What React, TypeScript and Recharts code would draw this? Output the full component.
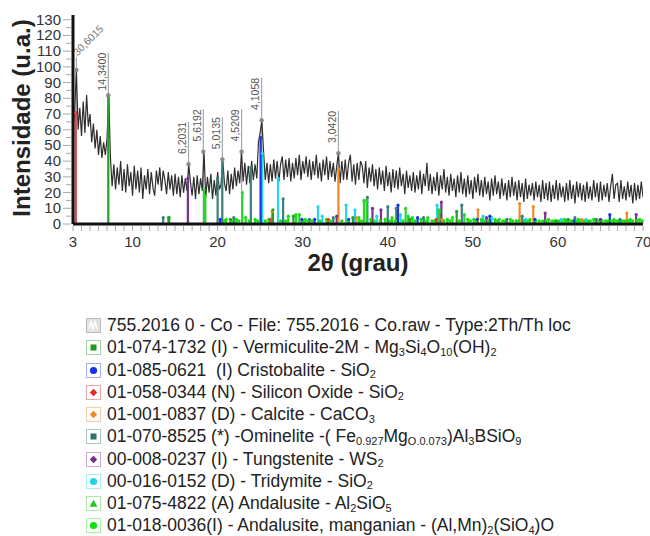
import React from 'react';
import {
  ComposedChart,
  Line,
  XAxis,
  YAxis,
  ReferenceLine,
  ReferenceDot,
  Label,
} from 'recharts';

const FONT = '"Liberation Sans", Arial, Helvetica, sans-serif';

// scan: 2θ from 3° to 70° in 0.2° steps
const scanStart = 3;
const scanStep = 0.2;
const counts = [
  62, 72, 98, 60, 74, 56, 78, 58, 82, 62,
  70, 52, 64, 48, 60, 44, 56, 42, 52, 44,
  54, 82, 42, 24, 38, 22, 36, 25, 40, 21,
  35, 20, 38, 24, 33, 18, 37, 22, 34, 20,
  36, 16, 31, 22, 35, 19, 33, 23, 18, 34,
  25, 36, 21, 34, 28, 19, 33, 22, 31, 18,
  32, 19, 30, 17, 31, 20, 29, 21, 38, 27,
  18, 30, 16, 31, 19, 29, 21, 46, 17, 30,
  20, 32, 16, 28, 18, 33, 22, 25, 41, 26,
  21, 34, 19, 32, 22, 36, 24, 34, 26, 46,
  27, 39, 25, 37, 26, 40, 28, 38, 29, 52,
  58, 66, 46, 28, 39, 26, 38, 27, 41, 29,
  40, 27, 38, 43, 28, 41, 30, 42, 27, 39,
  29, 42, 31, 44, 28, 40, 32, 43, 30, 41,
  28, 40, 31, 44, 29, 39, 27, 41, 31, 43,
  28, 40, 30, 39, 27, 37, 45, 26, 40, 28,
  41, 28, 39, 44, 27, 38, 25, 39, 28, 40,
  37, 26, 40, 23, 36, 27, 38, 24, 35, 22,
  36, 25, 34, 21, 37, 24, 33, 20, 35, 23,
  34, 22, 36, 24, 32, 19, 34, 23, 31, 21,
  33, 20, 31, 22, 34, 19, 32, 24, 39, 21,
  32, 19, 30, 21, 33, 18, 31, 22, 35, 20,
  30, 18, 32, 21, 29, 17, 31, 20, 33, 19,
  29, 17, 31, 19, 28, 16, 30, 20, 32, 18,
  28, 17, 30, 19, 27, 15, 29, 18, 31, 19,
  27, 16, 29, 18, 26, 15, 28, 17, 30, 18,
  27, 15, 28, 17, 26, 14, 29, 16, 25, 18,
  26, 15, 27, 17, 25, 14, 28, 16, 26, 15,
  27, 14, 25, 16, 28, 15, 26, 17, 24, 14,
  26, 15, 28, 16, 25, 13, 27, 17, 26, 15,
  25, 14, 27, 16, 24, 15, 28, 17, 26, 14,
  27, 15, 25, 17, 26, 14, 24, 32, 16, 25,
  26, 14, 28, 16, 24, 15, 27, 17, 25, 13,
  26, 15, 25, 16, 27, 17,
];

const xLabelTicks = [3, 10, 20, 30, 40, 50, 60, 70];
const yLabelTicks = [0, 10, 20, 30, 40, 50, 60, 70, 80, 90, 100, 110, 120, 130];

// d-spacing peak markers
const dLabels = ['30,6015', '14,3400', '6,2031', '5,6192', '5,0135', '4,5209', '4,1058', '3,0420'];
const dTheta = [3.4, 7.15, 16.58, 18.32, 20.56, 22.82, 25.17, 34.2];
const dPeak = [98, 82, 38, 46, 41, 46, 66, 45];

// reference patterns (position, relative intensity)
const vermTheta = [7.15, 14.3, 21.5, 26.5, 28.9, 35.9, 42.6, 48.1, 59.8, 61.2];
const vermInt = [81, 4, 3, 9, 5, 4, 3, 8, 2, 3];
const cristTheta = [20.3, 25.05, 29.9, 31.4, 35.4, 41.2, 43.5, 50.5, 52.0, 57.3, 61.9, 66.1];
const cristInt = [3, 55, 3, 3, 3, 12, 4, 3, 5, 3, 2, 6];
const siliconTheta = [3.3, 26.2, 33.0, 45.7];
const siliconInt = [71, 3, 3, 3];
const calciteTheta = [26.4, 34.2, 36.3, 46.4, 50.6, 55.5, 57.1, 62.8, 68.1];
const calciteInt = [8, 35, 4, 3, 9, 13, 11, 3, 7];
const omineliteTheta = [13.6, 20.0, 20.55, 21.9, 23.9, 27.7, 30.8, 33.6, 37.6, 40.0, 41.0, 44.2, 48.7, 54.0, 55.8, 62.0, 64.5, 67.3];
const omineliteInt = [4, 29, 41, 4, 36, 16, 3, 4, 17, 11, 10, 4, 12, 3, 5, 4, 3, 3];
const tungTheta = [16.5, 34.0, 38.2, 39.2, 46.3, 51.6, 58.5, 65.0, 69.2];
const tungInt = [29, 5, 10, 9, 14, 4, 7, 3, 6];
const tridTheta = [25.25, 27.1, 31.8, 32.3, 35.1, 36.15, 38.7, 41.5, 45.8, 51.2, 52.2, 56.2, 60.4, 63.3];
const tridInt = [45, 29, 11, 5, 12, 9, 5, 6, 12, 5, 4, 3, 3, 3];
const andTheta = [18.4, 22.9, 37.2, 37.5, 42.1, 46.0, 49.0, 53.1];
const andInt = [22, 20, 15, 15, 10, 9, 6, 3];
const mangTheta = [
  14.2, 18.55, 20.8, 21.0, 21.7, 22.2, 22.5, 23.3, 23.7, 24.4, 24.7, 25.6, 26.0, 27.4, 28.0, 28.3,
  29.2, 29.6, 30.0, 30.3, 30.6, 31.1, 32.0, 32.8, 33.3, 34.6, 35.3, 36.6, 36.9, 38.0, 38.4, 39.1,
  39.7, 40.2, 40.5, 40.9, 41.8, 42.4, 42.9, 43.2, 43.9, 44.4, 44.7, 45.2, 45.5, 46.1, 46.6, 47.0,
  47.3, 47.6, 48.4, 49.4, 49.7, 50.1, 50.4, 51.0, 51.3, 51.8, 52.6, 52.9, 53.5, 53.8, 54.4, 54.7,
  55.1, 55.4, 56.0, 56.4, 56.7, 57.4, 57.8, 58.2, 58.6, 58.9, 59.3, 59.6, 60.1, 60.5, 60.8, 61.1,
  61.5, 61.8, 62.1, 62.4, 62.7, 63.1, 63.5, 63.8, 64.2, 64.8, 65.2, 65.6, 65.9, 66.3, 66.6, 66.9,
  67.2, 67.6, 67.9, 68.2, 68.5, 68.8, 69.3, 69.6, 69.9,
];
const mangInt = [
  4, 18, 2, 3, 2, 3, 2, 4, 2, 3, 2, 2, 3, 2, 2, 5,
  6, 6, 2, 3, 2, 2, 2, 3, 2, 2, 2, 4, 2, 3, 2, 2,
  3, 2, 4, 2, 2, 5, 4, 2, 3, 2, 4, 2, 2, 8, 2, 3,
  2, 4, 2, 3, 2, 3, 2, 3, 2, 2, 3, 2, 2, 2, 3, 2,
  2, 2, 2, 2, 3, 2, 2, 2, 2, 3, 2, 2, 2, 2, 3, 2,
  2, 2, 2, 3, 2, 2, 2, 2, 3, 2, 2, 2, 2, 2, 3, 2,
  2, 2, 2, 2, 3, 2, 2, 3, 2,
];

const trace = counts.map((c, i) => ({ x: +(scanStart + i * scanStep).toFixed(2), y: c }));

const patterns = [
  { id: 'mang', theta: mangTheta, inten: mangInt, color: '#14e014' },
  { id: 'omin', theta: omineliteTheta, inten: omineliteInt, color: '#3b7f7c' },
  { id: 'trid', theta: tridTheta, inten: tridInt, color: '#26d6ec' },
  { id: 'tung', theta: tungTheta, inten: tungInt, color: '#7e2f8e' },
  { id: 'calc', theta: calciteTheta, inten: calciteInt, color: '#f28a2a' },
  { id: 'and', theta: andTheta, inten: andInt, color: '#2ed42e' },
  { id: 'crist', theta: cristTheta, inten: cristInt, color: '#1a34e6' },
  { id: 'verm', theta: vermTheta, inten: vermInt, color: '#24a024' },
  { id: 'sil', theta: siliconTheta, inten: siliconInt, color: '#ec3a3a' },
];

const minorX: number[] = [];
for (let v = 3; v <= 70; v++) minorX.push(v);
const minorY: number[] = [];
for (let v = 0; v <= 130; v += 5) minorY.push(v);

const XTick = (props: any) => {
  const { x, y, payload } = props;
  const v = payload.value;
  return (
    <g>
      <line x1={x} x2={x} y1={y + 2} y2={y + 7} stroke="#aaa" strokeWidth={1} />
      {xLabelTicks.includes(v) && (
        <text x={x} y={y + 23} textAnchor="middle" fontSize={15} fill="#333" fontFamily={FONT}>
          {v}
        </text>
      )}
    </g>
  );
};

const YTick = (props: any) => {
  const { x, y, payload } = props;
  const v = payload.value;
  const major = yLabelTicks.includes(v);
  return (
    <g>
      <line x1={major ? x - 10 : x - 7} x2={x - 2} y1={y} y2={y} stroke="#aaa" strokeWidth={1} />
      {major && (
        <text x={x - 12} y={y + 5} textAnchor="end" fontSize={15} fill="#333" fontFamily={FONT}>
          {v}
        </text>
      )}
    </g>
  );
};

const dLabelContent = (text: string, rotated: boolean) => (props: any) => {
  const vb = props.viewBox || {};
  const x = vb.x;
  const y = vb.y;
  if (rotated) {
    return (
      <text
        x={x + 1}
        y={y - 1}
        transform={`rotate(-45 ${x + 1} ${y - 1})`}
        fontSize={10.5}
        fill="#777"
        fontFamily={FONT}
      >
        {text}
      </text>
    );
  }
  return (
    <text
      x={x - 2.5}
      y={y}
      transform={`rotate(-90 ${x - 2.5} ${y})`}
      textAnchor="end"
      fontSize={10.5}
      fill="#555"
      fontFamily={FONT}
    >
      {text}
    </text>
  );
};

const Sub = ({ children }: { children: React.ReactNode }) => (
  <span style={{ fontSize: 11, lineHeight: '11px', position: 'relative', top: 2.5 }}>{children}</span>
);

const Icon = ({ kind, color, border }: { kind: string; color: string; border: string }) => (
  <svg width={15} height={15} style={{ position: 'absolute', left: 0, top: 4 }}>
    <rect x={0.5} y={0.5} width={14} height={14} fill={kind === 'trace' ? '#e2e2e2' : '#fff'} stroke={border} />
    {kind === 'trace' && (
      <polyline points="3,11 5,4 7,11 9,4 11,11" fill="none" stroke="#fff" strokeWidth={1.4} />
    )}
    {kind === 'square' && <rect x={4.5} y={4.5} width={6} height={6} fill={color} />}
    {kind === 'circle' && <circle cx={7.5} cy={7.5} r={3.6} fill={color} />}
    {kind === 'diamond' && <polygon points="7.5,3.8 11.2,7.5 7.5,11.2 3.8,7.5" fill={color} />}
    {kind === 'triangle' && <polygon points="7.5,3.8 11.4,10.8 3.6,10.8" fill={color} />}
  </svg>
);

const legendRows = [
  { kind: 'trace', color: '#999', border: '#bbb', label: <>755.2016 0 - Co - File: 755.2016 - Co.raw - Type:2Th/Th loc</> },
  { kind: 'square', color: '#1d9a1d', border: '#a3d6a3', label: <>01-074-1732 (I) - Vermiculite-2M - Mg<Sub>3</Sub>Si<Sub>4</Sub>O<Sub>10</Sub>(OH)<Sub>2</Sub></> },
  { kind: 'circle', color: '#1830e8', border: '#a6aef2', label: <>01-085-0621  (I) Cristobalite - SiO<Sub>2</Sub></> },
  { kind: 'diamond', color: '#e82828', border: '#f2a6a6', label: <>01-058-0344 (N) - Silicon Oxide - SiO<Sub>2</Sub></> },
  { kind: 'diamond', color: '#f28a22', border: '#f8cda6', label: <>01-001-0837 (D) - Calcite - CaCO<Sub>3</Sub></> },
  { kind: 'square', color: '#2d6f6c', border: '#abc6c4', label: <>01-070-8525 (*) -Ominelite -( Fe<Sub>0.927</Sub>Mg<Sub>O.0.073</Sub>)Al<Sub>3</Sub>BSiO<Sub>9</Sub></> },
  { kind: 'diamond', color: '#7a2a8a', border: '#ccabd3', label: <>00-008-0237 (I) - Tungstenite - WS<Sub>2</Sub></> },
  { kind: 'circle', color: '#22d4ea', border: '#aaeef6', label: <>00-016-0152 (D) - Tridymite - SiO<Sub>2</Sub></> },
  { kind: 'triangle', color: '#22c822', border: '#aaeaaa', label: <>01-075-4822 (A) Andalusite - Al<Sub>2</Sub>SiO<Sub>5</Sub></> },
  { kind: 'circle', color: '#11e011', border: '#aaf2aa', label: <>01-018-0036(I) - Andalusite, manganian - (Al,Mn)<Sub>2</Sub>(SiO<Sub>4</Sub>)O</> },
];

const App = () => {
  return (
    <div
      style={{
        position: 'absolute',
        left: 0,
        top: 0,
        width: 650,
        height: 536,
        background: '#fff',
        overflow: 'hidden',
        fontFamily: FONT,
      }}
    >
      <ComposedChart width={650} height={290} data={trace} margin={{ top: 15, right: 7, left: 0, bottom: 16 }}>
        <XAxis
          dataKey="x"
          type="number"
          domain={[3, 70]}
          ticks={minorX}
          interval={0}
          allowDataOverflow
          height={50}
          tickSize={0}
          tickMargin={0}
          tickLine={false}
          tick={<XTick />}
          axisLine={{ stroke: '#111', strokeWidth: 3 }}
        >
          <Label
            content={() => (
              <text x={358} y={271} textAnchor="middle" fontSize={24} fontWeight="bold" fill="#222" fontFamily={FONT}>
                2θ (grau)
              </text>
            )}
          />
        </XAxis>
        <YAxis
          type="number"
          domain={[0, 133]}
          ticks={minorY}
          interval={0}
          allowDataOverflow
          width={73}
          tickSize={0}
          tickMargin={0}
          tickLine={false}
          tick={<YTick />}
          axisLine={{ stroke: '#111', strokeWidth: 3 }}
        >
          <Label
            content={() => (
              <text
                x={30}
                y={118}
                transform="rotate(-90 30 118)"
                textAnchor="middle"
                fontSize={24}
                fontWeight="bold"
                fill="#222"
                fontFamily={FONT}
              >
                Intensidade (u.a.)
              </text>
            )}
          />
        </YAxis>

        {dTheta.map((t, i) => (
          <ReferenceLine
            key={'d' + i}
            segment={[
              { x: t, y: 0 },
              { x: t, y: i === 0 ? dPeak[i] + 8 : dPeak[i] + 27 },
            ]}
            stroke="#a8a8a8"
            strokeWidth={1.2}
            label={dLabelContent(dLabels[i], i === 0)}
          />
        ))}

        <Line
          type="linear"
          dataKey="y"
          stroke="#2e2e2e"
          strokeWidth={1.2}
          dot={false}
          isAnimationActive={false}
        />

        {patterns.map((p) =>
          p.theta.map((t, i) => (
            <ReferenceLine
              key={p.id + i}
              segment={[
                { x: t, y: 0 },
                { x: t, y: p.inten[i] },
              ]}
              stroke={p.color}
              strokeWidth={2.2}
            />
          ))
        )}
        {patterns.map((p) =>
          p.theta.map((t, i) => (
            <ReferenceDot key={p.id + 'dot' + i} x={t} y={p.inten[i]} r={1.6} fill={p.color} stroke="none" />
          ))
        )}
        {dTheta.map((t, i) => (
          <ReferenceDot key={'dp' + i} x={t} y={dPeak[i]} r={2.2} fill="#8a8a8a" stroke="none" />
        ))}
      </ComposedChart>

      <div style={{ position: 'absolute', left: 86, top: 314, color: '#222', fontSize: 17.5 }}>
        {legendRows.map((r, i) => (
          <div key={i} style={{ position: 'relative', height: 22.26, lineHeight: '22.26px', whiteSpace: 'pre' }}>
            <Icon kind={r.kind} color={r.color} border={r.border} />
            <span style={{ position: 'absolute', left: 21, top: 0 }}>{r.label}</span>
          </div>
        ))}
      </div>
    </div>
  );
};

export default App;
